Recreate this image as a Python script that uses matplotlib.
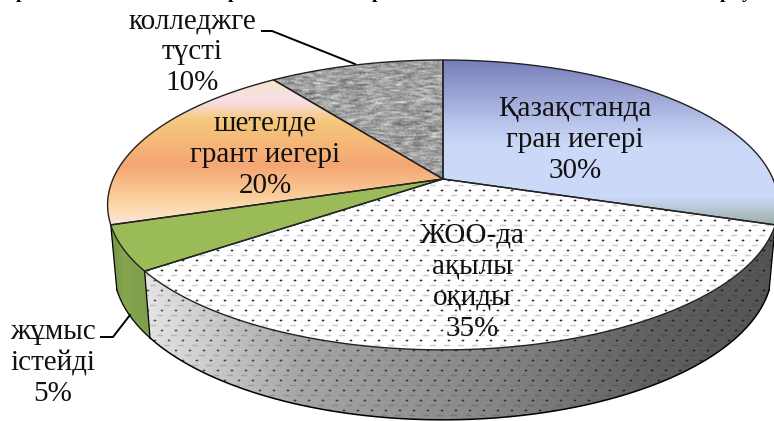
#! /usr/bin/env python3

import numpy as np
import matplotlib
matplotlib.use("Agg")
import matplotlib.pyplot as plt
from matplotlib.patches import Polygon

WIDTH, HEIGHT = 774, 421

# clockwise from the top of the pie
slices = ["Қазақстанда\nгран иегері", "ЖОО-да\nақылы\nоқиды", "жұмыс\nістейді", "шетелде\nгрант иегері", "колледжге\nтүсті"]
shares = [30, 35, 5, 20, 10]
label_xy = [(575, 140), (472, 282), (53, 363), (265, 155), (192, 52)]

# tips of the cut off line above the chart
cut_chars = ["р", "р", "р", "р", "у"]
cut_x = [21, 233, 377, 725, 747]

CENTER_X, CENTER_Y = 443, 179
TILT = 0.179


def project(theta, ring):
    # ring 0 = top face, ring 1 = bottom of the side wall
    u, v = np.sin(theta), -np.cos(theta)
    w = 1 - TILT * v
    if ring == 0:
        return CENTER_X + 330 * u / w, CENTER_Y + 140.3 * v / w
    return CENTER_X + 324 * u / w, 242 + 146 * v / w


def arc(a, b, ring):
    th = np.radians(np.linspace(a, b, 90))
    x, y = project(th, ring)
    return np.column_stack([x, y])


def vertical_gradient(stops):
    ys = [s[0] for s in stops]
    rows = np.arange(HEIGHT)
    cols = [matplotlib.colors.to_rgb(s[1]) for s in stops]
    rgb = [np.interp(rows, ys, [c[i] for c in cols]) for i in range(3)]
    return np.tile(np.stack(rgb, axis=1)[:, None, :], (1, WIDTH, 1))


def horizontal_gray(stops):
    xs = [s[0] for s in stops]
    g = np.interp(np.arange(WIDTH), xs, [s[1] for s in stops])
    return np.tile(g[None, :, None], (HEIGHT, 1, 3))


def blur(a):
    return (a * 2 + np.roll(a, 1, 0) + np.roll(a, -1, 0) + np.roll(a, 1, 1) + np.roll(a, -1, 1)) / 6


def dots_layer(img, strength=1.0):
    yy, xx = np.mgrid[0:HEIGHT, 0:WIDTH]
    row = yy // 5
    dark = (row % 2 == 0) & (yy % 5 == 0) & ((xx + 7 * (row // 2 % 2)) % 14 < 2)
    light = (row % 2 == 1) & (yy % 5 == 0) & ((xx + 7 * (row // 2 % 2) + 4) % 14 < 6)
    shade = blur(dark * 1.6 * strength + light * 0.3 * strength)
    return np.clip(img * (1 - shade[..., None]), 0, 1)


def granite():
    rng = np.random.default_rng(4)
    noise = rng.normal(size=(HEIGHT, WIDTH))
    kernel = np.ones(7) / 7
    noise = np.apply_along_axis(lambda r: np.convolve(r, kernel, mode="same"), 1, noise)
    noise = (noise + np.roll(noise, 1, 0)) / 2
    g = np.clip(0.63 + noise * 0.25, 0.35, 0.85)
    return np.stack([g, g, g], axis=2)


def fill(ax, pts, img, z):
    im = ax.imshow(img, extent=(0, WIDTH, HEIGHT, 0), interpolation="bilinear", zorder=z, aspect="auto")
    im.set_clip_path(Polygon(pts, closed=True, transform=ax.transData))


def plot():
    plt.rcParams["font.family"] = ["Liberation Serif", "DejaVu Serif"]
    fig = plt.figure(figsize=(WIDTH / 100, HEIGHT / 100), dpi=100)
    ax = fig.add_axes([0, 0, 1, 1])

    edges = np.concatenate([[0], np.cumsum(shares)]) * 3.6

    tops = [
        vertical_gradient([(60, "#777dbb"), (120, "#b6c2e8"), (145, "#cbd8f8"), (197, "#cbd8f8"), (226, "#98ac9e")]),
        dots_layer(np.ones((HEIGHT, WIDTH, 3))),
        np.tile(np.array(matplotlib.colors.to_rgb("#9bbb59")), (HEIGHT, WIDTH, 1)),
        vertical_gradient([(80, "#f6e6c8"), (100, "#f8dfe8"), (120, "#f6c87c"), (165, "#f5a672"), (205, "#fbd9a8"), (226, "#fbe6e2")]),
        granite(),
    ]

    # side walls, only the two front slices show
    wall = dots_layer(horizontal_gray([(145, 0.9), (300, 0.65), (500, 0.52), (650, 0.38), (770, 0.33)]), 0.8)
    a, b = edges[1], edges[2]
    fill(ax, np.vstack([arc(a, b, 0), arc(b, a, 1)]), wall, 1)
    ax.plot(*arc(a, b, 1).T, color="black", lw=1.1, zorder=2)

    a, b = edges[2], edges[3]
    green = horizontal_gray([(105, 0.42), (125, 0.5), (150, 0.47)]) * np.array([1.05, 1.3, 0.62])
    fill(ax, np.vstack([arc(a, b, 0), arc(b, a, 1)]), np.clip(green, 0, 1), 1)
    ax.plot(*arc(b, a, 1).T, color="black", lw=0.9, zorder=2)
    for th in [edges[1], edges[2], edges[3]]:
        p, q = arc(th, th, 0)[0], arc(th, th, 1)[0]
        ax.plot([p[0], q[0]], [p[1], q[1]], color="black", lw=0.9, zorder=2)

    # top face
    for i in range(len(shares)):
        rim = arc(edges[i], edges[i + 1], 0)
        pts = np.vstack([[CENTER_X, CENTER_Y], rim])
        fill(ax, pts, tops[i], 3)
        ax.plot(*np.vstack([pts, pts[:1]]).T, color="#222222", lw=1.0, zorder=4)

    # leader lines
    ax.plot([262, 272, 355], [31, 31, 64], color="black", lw=1.4, zorder=5)
    ax.plot([101, 113, 130], [337, 337, 315], color="black", lw=1.4, zorder=5)

    for name, share, (x, y) in zip(slices, shares, label_xy):
        ax.text(x, y, "%s\n%d%%" % (name, share), ha="center", va="center", fontsize=21,
                linespacing=1.25, color="#111111", zorder=6)

    for ch, x in zip(cut_chars, cut_x):
        ax.text(x, -2, ch, ha="center", va="baseline", fontsize=14, fontweight="bold", color="black")

    ax.set_xlim(0, WIDTH)
    ax.set_ylim(HEIGHT, 0)
    ax.axis("off")
    fig.savefig("out.png", dpi=100)


if __name__ == "__main__":
    plot()
